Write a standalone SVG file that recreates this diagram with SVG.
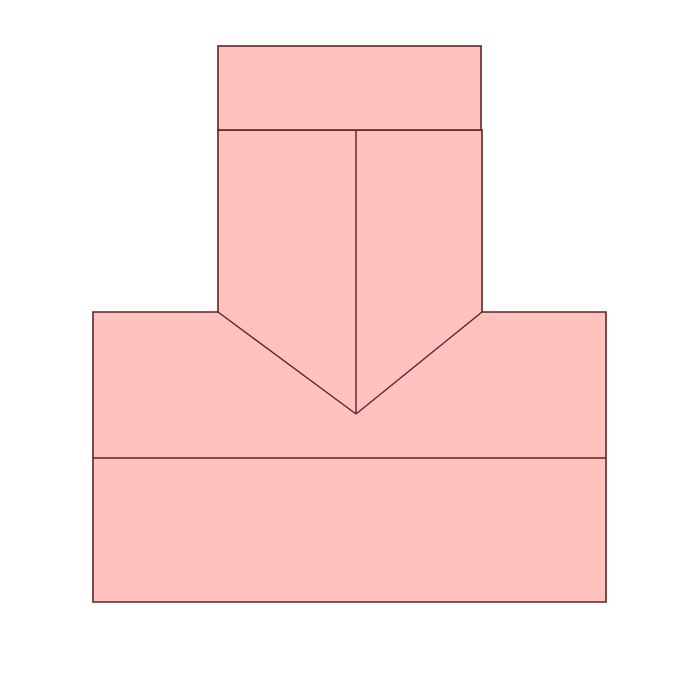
<svg xmlns="http://www.w3.org/2000/svg" width="700" height="700" viewBox="0 0 700 700">
<style>
.s{fill:#ffc2bf;stroke:#5e2424;stroke-width:1.6;stroke-linejoin:miter}
.l{fill:none;stroke:#5e2424;stroke-width:1.4}
</style>
<rect width="700" height="700" fill="#ffffff"/>
<g id="base">
<path class="s" d="M93 312 L218 312 L218 130 L482 130 L482 312 L606 312 L606 602 L93 602 Z"/>
</g>
<g id="top">
<rect class="s" x="218" y="46" width="263" height="84"/>
</g>
<g id="lines">
<line class="l" x1="356" y1="130" x2="356" y2="414"/>
<line class="l" x1="218" y1="312" x2="356" y2="414"/>
<line class="l" x1="482" y1="312" x2="356" y2="414"/>
<line class="l" x1="93" y1="458" x2="606" y2="458"/>
</g>
</svg>
